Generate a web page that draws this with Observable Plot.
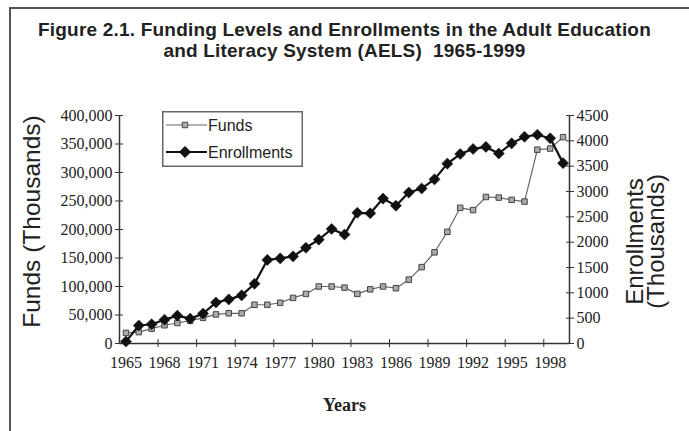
<!DOCTYPE html>
<html>
<head>
<meta charset="utf-8">
<script src="https://cdn.jsdelivr.net/npm/d3@7"></script>
<script src="https://cdn.jsdelivr.net/npm/@observablehq/plot@0.6"></script>
<style>
  html, body { margin: 0; padding: 0; background: #fff; }
  #wrap { position: relative; width: 689px; height: 431px; overflow: hidden; background: #fff; }
  #frame { position: absolute; left: 9px; top: 7px; width: 700px; height: 440px; border-left: 2.5px solid #555; border-top: 2.5px solid #555; }
  #title { position: absolute; left: 0; top: 19px; width: 689px; text-align: center; font-family: "Liberation Sans", Arial, sans-serif; font-weight: bold; font-size: 19px; letter-spacing: 0.2px; line-height: 21px; color: #222; }
  #chart { position: absolute; left: 0; top: 0; }
  #legend { position: absolute; left: 162px; top: 111px; }
</style>
</head>
<body>
<div id="wrap">
  <div id="frame"></div>
  <div id="chart"></div>
  <div id="title">Figure 2.1. Funding Levels and Enrollments in the Adult Education<br>and Literacy System (AELS)&nbsp; 1965-1999</div>
  <div id="legend"></div>
</div>
<script>
// ---- data ----
const years = [1965,1966,1967,1968,1969,1970,1971,1972,1973,1974,1975,1976,1977,1978,1979,1980,1981,1982,1983,1984,1985,1986,1987,1988,1989,1990,1991,1992,1993,1994,1995,1996,1997,1998,1999];
// Funds, thousands of dollars
const funds = [18600,20000,26000,32000,36000,40000,45000,51000,53000,53000,68000,68000,71500,80000,87000,100000,100000,98000,87000,95000,100000,97000,112000,134000,160000,196000,238000,234000,257000,256000,252000,249000,340000,342000,362000];
// Enrollments, thousands
const enrollments = [38,355,380,470,550,490,590,810,870,950,1180,1650,1680,1720,1890,2050,2260,2150,2580,2570,2860,2720,2980,3060,3240,3550,3740,3840,3880,3750,3950,4080,4120,4050,3560];
const fundTicks = [0,50000,100000,150000,200000,250000,300000,350000,400000];
const enrollTicks = [0,500,1000,1500,2000,2500,3000,3500,4000,4500];
const yearLabels = [1965,1968,1971,1974,1977,1980,1983,1986,1989,1992,1995,1998];
const yearTickPositions = [1967.5,1970.5,1973.5,1976.5,1979.5,1982.5,1985.5,1988.5,1991.5,1994.5,1997.5];
const seriesNames = ["Funds", "Enrollments"];

const fundMax = 400000, enrollMax = 4500;
const k = fundMax / enrollMax; // enrollment -> left-axis units

const rows = years.map((y, i) => ({year: y, funds: funds[i], enroll: enrollments[i], enrollScaled: enrollments[i] * k}));

const serif = "'Liberation Serif', 'Times New Roman', serif";
const sans = "'Liberation Sans', Arial, sans-serif";

const chart = Plot.plot({
  width: 689,
  height: 431,
  marginTop: 115,
  marginBottom: 88,
  marginLeft: 119,
  marginRight: 120,
  style: {fontFamily: serif, fontSize: "16px", color: "#222", background: "transparent"},
  x: {domain: [1964.5, 1999.5], axis: null},
  y: {domain: [0, fundMax], axis: null},
  marks: [
    // frame lines (left, right, bottom)
    Plot.ruleX([1964.5, 1999.5], {stroke: "#333", strokeWidth: 1.5}),
    Plot.ruleY([0], {stroke: "#333", strokeWidth: 1.5}),
    // left axis ticks (crossing) + labels
    Plot.axisY(fundTicks, {anchor: "left", tickSize: 8, dx: 4, tickFormat: () => "", stroke: "#333", label: null}),
    Plot.axisY(fundTicks, {anchor: "left", tickSize: 0, tickPadding: 7, tickFormat: d3.format(","), fontSize: 16, fontFamily: serif, fill: "#222", label: null}),
    // right axis (enrollments, mapped onto the same scale)
    Plot.axisY(enrollTicks.map(d => d * k), {anchor: "right", tickSize: 8, dx: -4, tickFormat: () => "", stroke: "#333", label: null}),
    Plot.axisY(enrollTicks.map(d => d * k), {anchor: "right", tickSize: 0, tickPadding: 7, tickFormat: d => String(Math.round(d / k)), fontSize: 16, fontFamily: serif, fill: "#222", label: null}),
    // x axis ticks (crossing, between categories) + labels
    Plot.axisX(yearTickPositions, {anchor: "bottom", tickSize: 8, dy: -4, tickFormat: () => "", stroke: "#333", label: null}),
    Plot.axisX(yearLabels, {anchor: "bottom", tickSize: 0, tickPadding: 13, tickFormat: d => String(d), fontSize: 16, fontFamily: serif, fill: "#222", label: null}),
    // axis titles
    Plot.text(["Funds (Thousands)"], {frameAnchor: "left", textAnchor: "middle", dx: -87, dy: -8, rotate: -90, fontSize: 24.5, fontFamily: sans, fill: "#222"}),
    Plot.text(["Enrollments\n(Thousands)"], {frameAnchor: "right", textAnchor: "middle", dx: 77, dy: 12, rotate: -90, fontSize: 24, fontFamily: sans, fill: "#222", lineHeight: 0.88}),
    Plot.text(["Years"], {frameAnchor: "bottom", dy: 67, fontSize: 18, fontWeight: "bold", fontFamily: serif, fill: "#222"}),
    // funds series
    Plot.line(rows, {x: "year", y: "funds", stroke: "#666", strokeWidth: 1.2}),
    Plot.dot(rows, {x: "year", y: "funds", symbol: "square", r: 3.1, fill: "#aaa", stroke: "#444", strokeWidth: 1}),
    // enrollments series
    Plot.line(rows, {x: "year", y: "enrollScaled", stroke: "#111", strokeWidth: 2.2}),
    Plot.dot(rows, {x: "year", y: "enrollScaled", symbol: "diamond2", r: 5, fill: "#111", stroke: "#111", strokeWidth: 0.5})
  ]
});
document.getElementById("chart").appendChild(chart);

// ---- legend ----
const lw = 141, lh = 56;
const lg = d3.select("#legend").append("svg").attr("width", lw).attr("height", lh);
lg.append("rect").attr("x", 0.75).attr("y", 0.75).attr("width", lw - 1.5).attr("height", lh - 1.5)
  .attr("fill", "#fff").attr("stroke", "#666").attr("stroke-width", 1.5);
const legendItems = [
  {name: seriesNames[0], stroke: "#666", sw: 1.2, sym: d3.symbolSquare, size: 30, fill: "#aaa", symStroke: "#444"},
  {name: seriesNames[1], stroke: "#111", sw: 2.2, sym: d3.symbolDiamond2, size: 78, fill: "#111", symStroke: "#111"}
];
legendItems.forEach((it, i) => {
  const cy = 14 + i * 27;
  lg.append("line").attr("x1", 4).attr("x2", 45).attr("y1", cy).attr("y2", cy).attr("stroke", it.stroke).attr("stroke-width", it.sw);
  lg.append("path").attr("d", d3.symbol(it.sym, it.size)()).attr("transform", `translate(23,${cy})`)
    .attr("fill", it.fill).attr("stroke", it.symStroke).attr("stroke-width", 1);
  lg.append("text").attr("x", 46).attr("y", cy).attr("dy", "0.35em").attr("font-family", sans).attr("font-size", 16)
    .attr("fill", "#222").text(it.name);
});
</script>
</body>
</html>
